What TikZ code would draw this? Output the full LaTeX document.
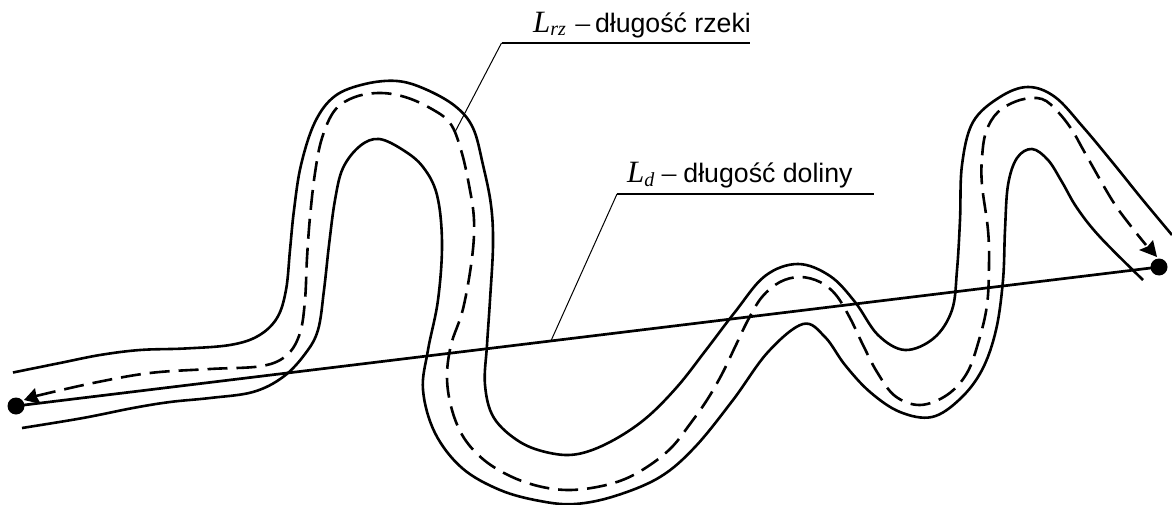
\documentclass[tikz,border=0pt]{standalone}
\usepackage{fontspec}
\setmainfont{Liberation Sans}
\newfontfamily\serifit[Ligatures=TeX]{Liberation Serif}
\usetikzlibrary{arrows.meta}
\tikzset{
  bank/.style={line width=2.6pt,line join=round,line cap=butt},
  axis/.style={bank,dash pattern=on 20pt off 9pt},
  leader/.style={line width=1pt},
  shelf/.style={line width=2.1pt},
  dot/.style={circle,fill=black,inner sep=0pt,minimum size=17pt},
  lab/.style={inner sep=0pt,anchor=base west,font=\fontsize{26.7}{30}\selectfont},
  tiphead/.style={fill=black,draw=none},
}
\newcommand{\Lsym}[1]{{\serifit\itshape\fontsize{31}{30}\selectfont L}{\serifit\itshape\fontsize{20}{20}\selectfont\raisebox{-3pt}{#1}}}
\newcommand{\Dsh}{{\serifit\fontsize{29}{30}\selectfont –}}
\begin{document}
\begin{tikzpicture}[x=1pt,y=-1pt]
\useasboundingbox (0,0) rectangle (1172,505);
% bank one
\draw[bank] plot[smooth,tension=0.6] coordinates {
(13,372.5)(60,363)(100,355)(140,350)(185,348.5)(230,345)(258,336)(277,318)(286,290)(290,250)(294,210)(301,165)(315,122)(335,96)(365,84)(397,81)(425,89)(455,106)(473,128)(483,165)(491,205)(493,245)(490,300)(487,345)(485,385)(494,418)(520,442)(550,453)(578,454)(610,442)(645,419)(677,387)(706,350)(735,312)(765,276)(798,264)(830,276)(855,302)(878,335)(905,350)(934,338)(952,310)(957,270)(960,220)(962,165)(973,122)(1000,97)(1028,87)(1055,97)(1083,127)(1113,163)(1142,199)(1172,235)};
% bank two
\draw[bank] plot[smooth,tension=0.6] coordinates {
(22,428)(83,418)(133,408)(170,402)(210,398)(253,392)(283,377)(305,354)(318,330)(324,290)(329,245)(335,200)(343,168)(360,146)(379,139)(403,150)(423,167)(437,195)(442,243)(438,300)(428,350)(423,390)(435,433)(462,468)(500,490)(540,501)(575,504)(615,496)(660,477)(695,447)(733,400)(768,352)(803,324)(825,337)(845,365)(870,392)(900,412)(932,417)(960,399)(982,370)(996,330)(1003,280)(1005,230)(1008,185)(1017,158)(1032,149)(1048,160)(1062,182)(1077,208)(1100,237)(1143,280)};
% centre line
\draw[axis] plot[smooth,tension=0.6] coordinates {
(36,396)(93,383)(150,373)(210,369)(262,366)(287,355)(300,333)(305,300)(307,258)(310,217)(315,173)(322,138)(335,110)(355,97)(380,93)(405,97)(430,108)(450,123)(461,150)(469,185)(474,220)(472,258)(463,309)(451,345)(447,378)(452,410)(464,438)(484,460)(510,476)(538,486)(567,490)(597,487)(625,479)(650,465)(672,447)(690,424)(707,400)(722,374)(735,347)(748,320)(762,297)(780,282)(800,277)(820,282)(836,295)(850,318)(863,345)(877,372)(895,396)(920,405)(947,395)(967,373)(979,340)(987,305)(989,265)(988,230)(982,185)(982,158)(986,132)(998,112)(1020,100)(1042,99)(1058,112)(1072,130)(1085,153)(1112,200)(1130,225)(1146,245)};
\fill[tiphead] (24,400) -- (35,388) -- (36.5,396.5) -- (41,404) -- cycle;
\fill[tiphead] (1157,257) -- (1139,250) -- (1147.5,246.5) -- (1153,240) -- cycle;
% valley
\node[dot] (left) at (16,406) {};
\node[dot] (right) at (1159,267) {};
\draw[line width=2.7pt] (left.center) -- (right.center) coordinate[pos=0.468] (vfoot);
% leaders
\coordinate (rfoot) at (455,132);
\coordinate (rknee) at (501.5,43);
\coordinate (rend) at (750,43);
\coordinate (dknee) at (617,194);
\coordinate (dend) at (874,194);
\draw[leader] (rfoot) -- (rknee);
\draw[shelf] (rknee) -- (rend);
\draw[leader] (vfoot) -- (dknee);
\draw[shelf] (dknee) -- (dend);
\node[lab] (rlabel) at (533,33) {\Lsym{rz}\hspace{9.5pt}\Dsh\hspace{5pt}długość rzeki};
\node[lab] (dlabel) at (627,183) {\Lsym{d}\hspace{7.5pt}\Dsh\hspace{7pt}długość doliny};
\end{tikzpicture}
\end{document}
